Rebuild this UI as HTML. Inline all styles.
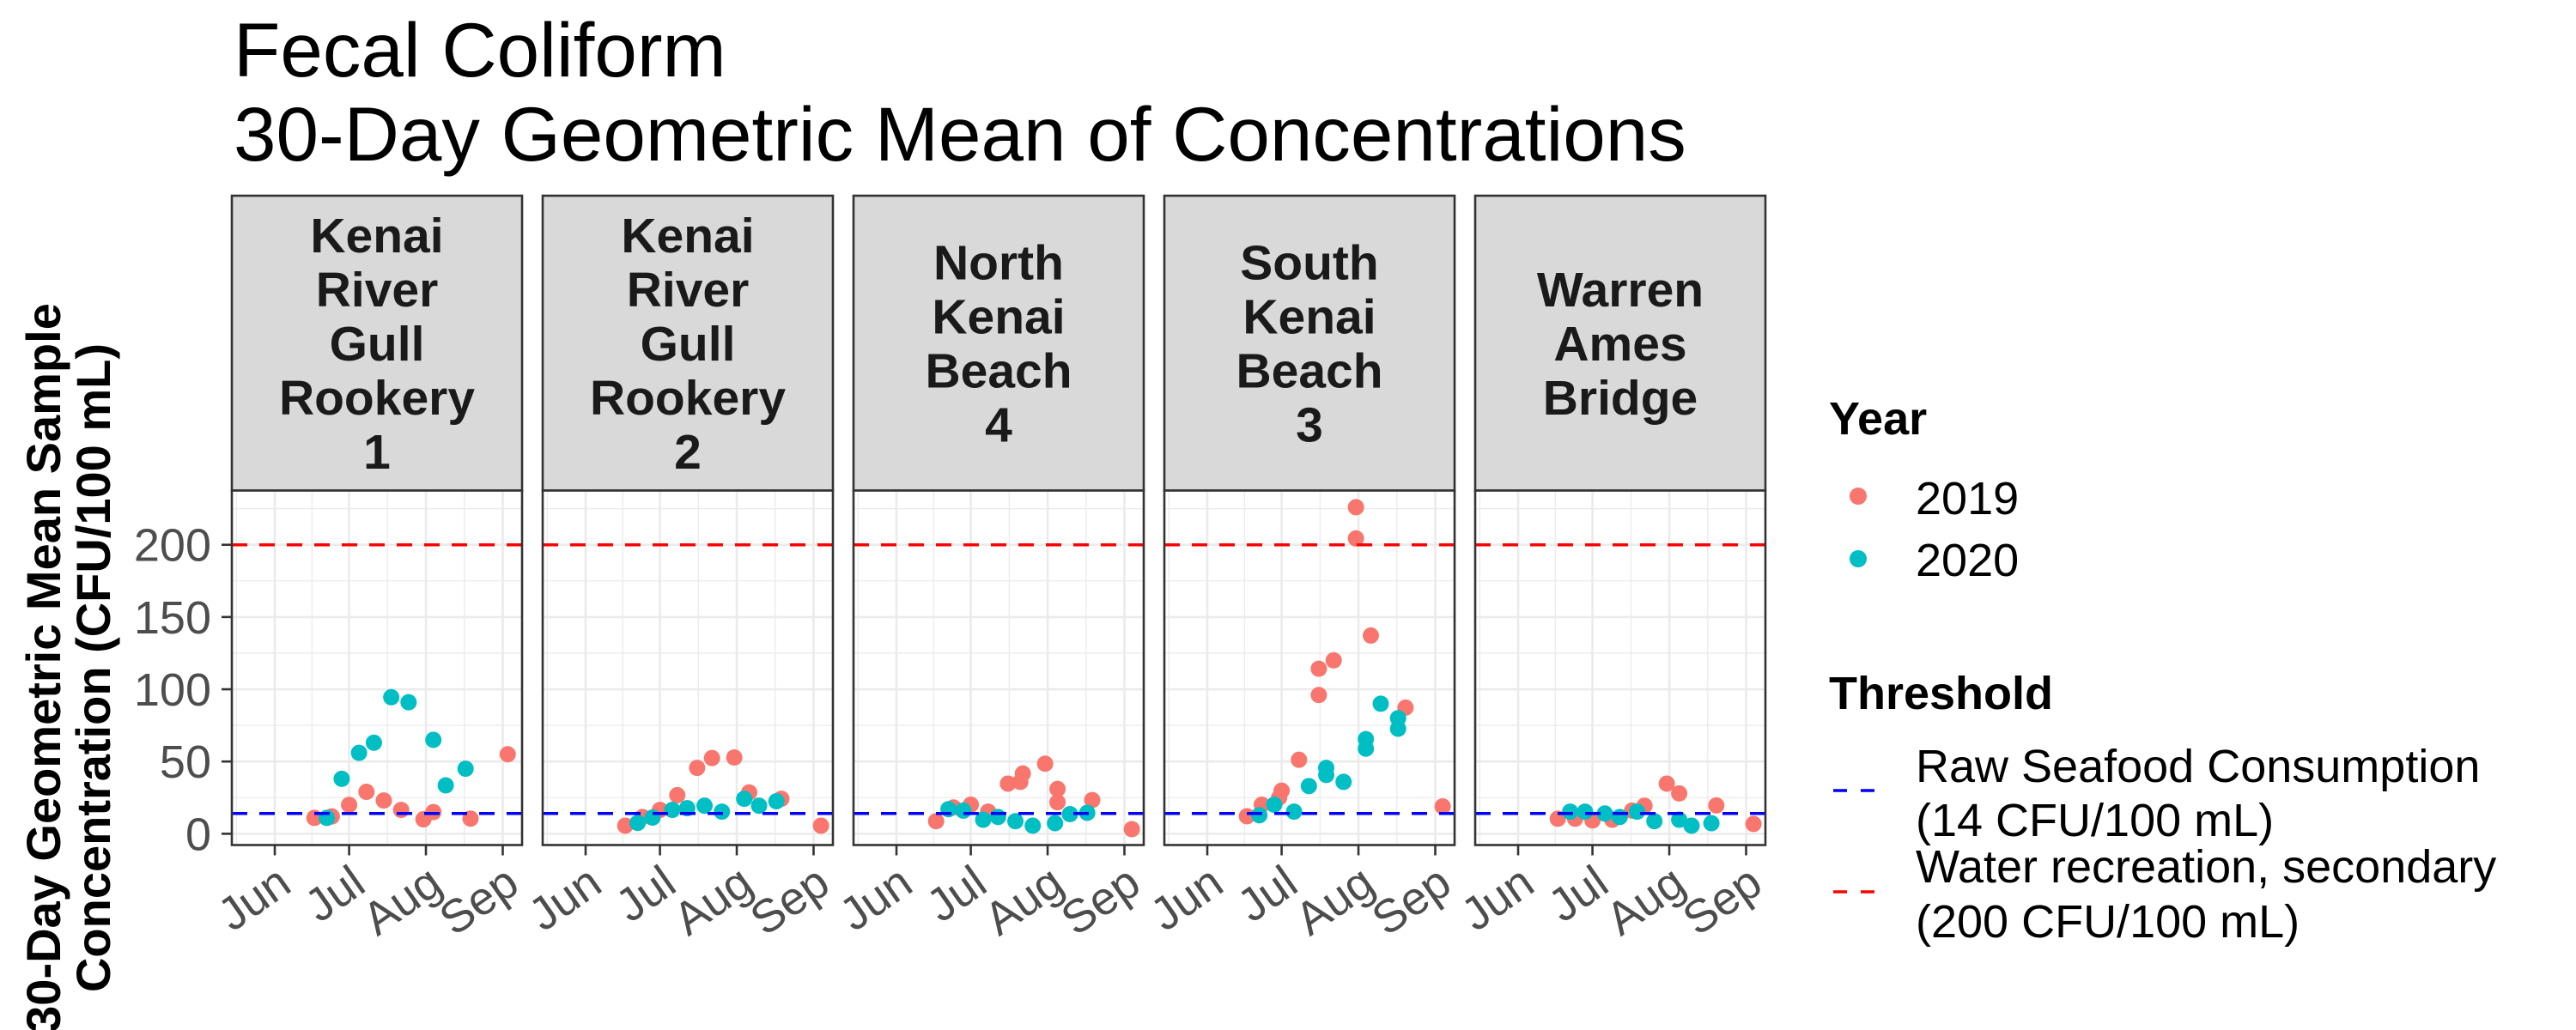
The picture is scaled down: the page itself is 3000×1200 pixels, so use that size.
<!DOCTYPE html>
<html><head><meta charset="utf-8"><style>
html,body{margin:0;padding:0;background:#fff;}
svg{display:block;font-family:"Liberation Sans",sans-serif;}
</style></head><body>
<svg id="chart" width="3000" height="1200" viewBox="0 0 3000 1200" xmlns="http://www.w3.org/2000/svg">
<rect width="3000" height="1200" fill="#fff"/>
<text x="272" y="89" font-size="89" fill="#000">Fecal Coliform</text>
<text x="272" y="187" font-size="89" fill="#000">30-Day Geometric Mean of Concentrations</text>
<g transform="translate(70,778) rotate(-90)">
<text x="0" y="0" text-anchor="middle" font-size="56" font-weight="bold" fill="#000">30-Day Geometric Mean Sample</text>
<text x="0" y="58" text-anchor="middle" font-size="56" font-weight="bold" fill="#000">Concentration (CFU/100 mL)</text>
</g>
<g id="panels"></g>
<g>
<text x="2130" y="506" font-size="54" font-weight="bold">Year</text>
<circle cx="2164" cy="578" r="10" fill="#F8766D"/>
<text x="2231" y="599" font-size="54">2019</text>
<circle cx="2164" cy="651" r="10" fill="#00BFC4"/>
<text x="2231" y="671" font-size="54">2020</text>
<text x="2130" y="826" font-size="54" font-weight="bold">Threshold</text>
<line x1="2135" x2="2184" y1="921" y2="921" stroke="#0000FF" stroke-width="3.5" stroke-dasharray="16,16"/>
<text x="2231" y="911" font-size="54">Raw Seafood Consumption</text>
<text x="2231" y="974" font-size="54">(14 CFU/100 mL)</text>
<line x1="2135" x2="2184" y1="1039" y2="1039" stroke="#FF0000" stroke-width="3.5" stroke-dasharray="16,16"/>
<text x="2231" y="1028" font-size="54">Water recreation, secondary</text>
<text x="2231" y="1092" font-size="54">(200 CFU/100 mL)</text>
</g>
</svg>
<script>
const sites = [["Kenai","River","Gull","Rookery","1"],["Kenai","River","Gull","Rookery","2"],["North","Kenai","Beach","4"],["South","Kenai","Beach","3"],["Warren","Ames","Bridge"]];
const yTicks = [0,50,100,150,200];
const monthLabels = ["Jun","Jul","Aug","Sep"];
const monthDates = ["06-01","07-01","08-01","09-01"];
const thresholds = [14,200];
const dates2019 = [
["06-17","06-24","07-01","07-08","07-15","07-22","07-31","08-04","08-19","09-03"],
["06-17","06-24","07-01","07-08","07-16","07-22","07-31","08-06","08-19","09-04"],
["06-17","06-24","07-01","07-08","07-16","07-21","07-22","07-31","08-05","08-05","08-19","09-04"],
["06-17","06-23","06-30","07-01","07-08","07-16","07-16","07-22","07-31","07-31","08-06","08-20","09-04"],
["06-17","06-24","07-01","07-09","07-17","07-22","07-31","08-05","08-20","09-04"]];
const values2019 = [
[11,12,20,29,23,16.5,10,15,10.5,55],
[5.6,11.6,16.5,26.7,45.6,52.4,52.8,28.6,24.2,5.6],
[8.7,18.2,20.1,15.3,34.7,35.9,41.7,48.5,31,21.8,23.3,3.2],
[12.1,20.1,25,29.8,51.2,96,114.2,120,226,204.4,137.2,87.3,18.9],
[10.4,10.4,9.2,9.7,16,19.4,34.7,27.9,19.6,6.8]];
const dates2020 = [
["06-22","06-28","07-05","07-11","07-18","07-25","08-04","08-09","08-17"],
["06-22","06-28","07-06","07-12","07-19","07-26","08-04","08-10","08-17"],
["06-22","06-28","07-06","07-12","07-19","07-26","08-04","08-10","08-17"],
["06-22","06-28","07-06","07-12","07-19","07-19","07-26","08-04","08-04","08-10","08-17","08-17"],
["06-22","06-28","07-06","07-12","07-19","07-26","08-05","08-10","08-18"]];
const values2020 = [
[11,38,56,63,94.5,91,65,33.5,45],
[7.5,11.2,16.5,17.7,19.4,15.3,24.2,19.4,22.5],
[17,16,9.7,11.6,8.7,5.6,7.3,13.6,14.5],
[12.8,20.1,15.3,33,45.6,40.7,35.9,65.5,58.9,90,80,72.7],
[15.3,15.3,14,11.6,15.3,8.7,9.7,5.6,7.3]];

const NS="http://www.w3.org/2000/svg";
const cum={1:0,2:31,3:59,4:90,5:120,6:151,7:181,8:212,9:243,10:273};
function doy(s){const p=s.split("-");return cum[+p[0]]+(+p[1]);}
const PW=338, GAP=24, X0=270, PT=571.4, PB=984.5, ST=228;
const DMIN=134.67, DMAX=251.8, VMIN=-7.8, VMAX=237.6;
function xs(i,d){return X0+i*(PW+GAP)+(d-DMIN)/(DMAX-DMIN)*PW;}
function ys(v){return PB-(v-VMIN)/(VMAX-VMIN)*(PB-PT);}
function mk(tag,attrs,parent){const e=document.createElementNS(NS,tag);for(const k in attrs)e.setAttribute(k,attrs[k]);parent.appendChild(e);return e;}
const root=document.getElementById("panels");
const majors=monthDates.map(doy);
const minors=[doy("05-01")].concat(majors).slice(0,-1).map((m,k)=>(m+[doy("05-01")].concat(majors)[k+1])/2);
for(let i=0;i<sites.length;i++){
  const L=X0+i*(PW+GAP);
  const g=mk("g",{},root);
  
  
  const bg=mk("rect",{x:L,y:PT,width:PW,height:PB-PT,fill:"#fff"},g);
  
  
  for(let v=25;v<=225;v+=50){const ln=mk("line",{x1:L,x2:L+PW,y1:ys(v),y2:ys(v),stroke:"#EBEBEB","stroke-width":1.3},g);
    
    }
  minors.forEach(m=>{const x=xs(i,m);if(x>L&&x<L+PW){const ln=mk("line",{x1:x,x2:x,y1:PT,y2:PB,stroke:"#EBEBEB","stroke-width":1.3},g);
    
    }});
  yTicks.forEach(v=>{const ln=mk("line",{x1:L,x2:L+PW,y1:ys(v),y2:ys(v),stroke:"#EBEBEB","stroke-width":2.6},g);
    
    });
  majors.forEach(m=>{const ln=mk("line",{x1:xs(i,m),x2:xs(i,m),y1:PT,y2:PB,stroke:"#EBEBEB","stroke-width":2.6},g);
    
    });
  const series=[[dates2019[i],values2019[i],"#F8766D","point-2019"],[dates2020[i],values2020[i],"#00BFC4","point-2020"]];
  series.forEach(s=>{s[0].forEach((d,k)=>{const c=mk("circle",{cx:xs(i,doy(d)),cy:ys(s[1][k]),r:9.5,fill:s[2]},g);
    
    });});
  thresholds.forEach(t=>{const ln=mk("line",{x1:L,x2:L+PW,y1:ys(t),y2:ys(t),stroke:t===14?"#0000FF":"#FF0000","stroke-width":3.5,"stroke-dasharray":"18,14"},g);
    
    });
  const bd=mk("rect",{x:L,y:PT,width:PW,height:PB-PT,fill:"none",stroke:"#333","stroke-width":2.6},g);
  
  
  const st=mk("rect",{x:L,y:ST,width:PW,height:PT-ST,fill:"#D9D9D9",stroke:"#333","stroke-width":2.6},g);
  
  
  const n=sites[i].length, cy=(ST+PT)/2;
  sites[i].forEach((w,k)=>{const t=mk("text",{x:L+PW/2,y:cy+(k-(n-1)/2)*63+20.5,"text-anchor":"middle","font-size":57,"font-weight":"bold",fill:"#1A1A1A"},g);t.textContent=w;
    
    });
  monthLabels.forEach((m,k)=>{const x=xs(i,majors[k]);
    const tk=mk("line",{x1:x,x2:x,y1:PB,y2:PB+12,stroke:"#333","stroke-width":2.6},g);
    
    
    const t=mk("text",{x:0,y:0,"text-anchor":"end","font-size":54,fill:"#4D4D4D",transform:"translate("+(x+22)+","+(PB+52)+") rotate(-35)"},g);t.textContent=m;
    
    });
  if(i===0){yTicks.forEach(v=>{
    const tk=mk("line",{x1:L-12,x2:L,y1:ys(v),y2:ys(v),stroke:"#333","stroke-width":2.6},g);
    
    
    const t=mk("text",{x:L-24,y:ys(v)+19,"text-anchor":"end","font-size":54,fill:"#4D4D4D"},g);t.textContent=v;
    
    });}
}
</script>
</body></html>
